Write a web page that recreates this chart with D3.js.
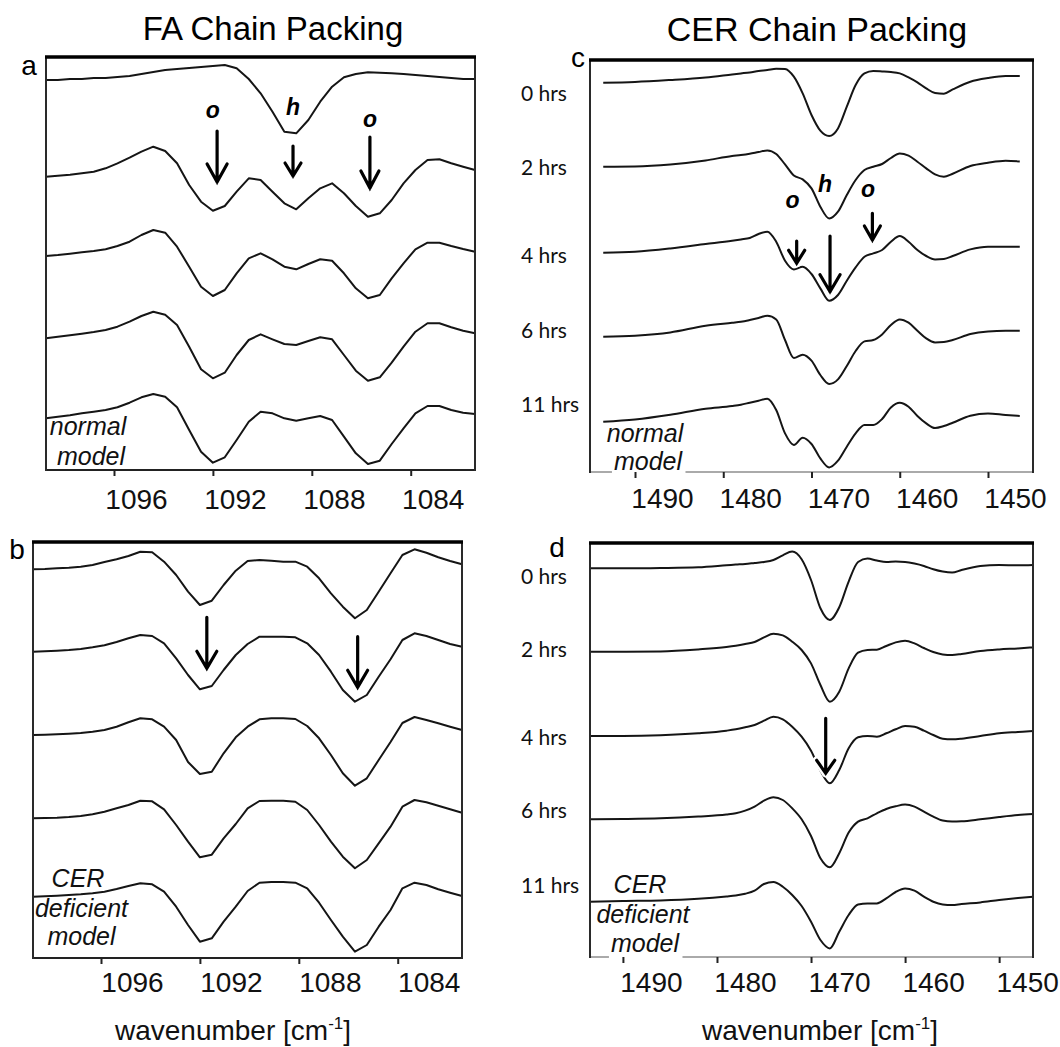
<!DOCTYPE html>
<html><head><meta charset="utf-8">
<script src="https://cdn.jsdelivr.net/npm/d3@7"></script>
<style>body{margin:0;background:#fff}svg{display:block}</style>
</head><body>
<svg id="chart" width="1060" height="1047"></svg>
<script>
// ---------------- DATA ----------------
// FA (CD2 scissoring) sampling grid, cm^-1
const faWavenumber = [1098.75,1098.27,1097.78,1097.30,1096.82,1096.34,1095.86,1095.37,1094.89,1094.41,1093.93,1093.45,1092.96,1092.48,1092.00,1091.52,1091.04,1090.55,1090.07,1089.59,1089.11,1088.63,1088.14,1087.66,1087.18,1086.70,1086.22,1085.73,1085.25,1084.77,1084.29,1083.81,1083.32,1082.84,1082.36,1081.88,1081.40];
// panel a: normal model (relative intensity, arbitrary units, each relative to its own left baseline)
const faNormal1 = [0,0,1,1,2,2,3,4,6,8,10,11,12,13,14,15,11.7,1,-13.3,-31.7,-51.7,-53.3,-40,-21.7,-6.7,2.7,6,7.7,7.3,6.7,6,5,4,3,2,1,1];
const faNormal2 = [0,1,2,3.4,5,8.4,13.4,19,25,30,25.7,13.4,-8.3,-25,-34,-29.3,-15,-1.6,-3.3,-15,-26.6,-32.6,-21.6,-11.6,-6.6,-16.6,-29.3,-40,-36.6,-23.3,-6.6,6.7,16.7,17.4,13.4,10,6.7];
const faNormal3 = [0,1,2.3,3.7,5,6.7,10,14.3,21,26,23.3,9.3,-10.7,-30.7,-40,-34,-17.3,-2.3,2.7,-3.3,-10.7,-13.3,-8,-3.3,-4.7,-17.3,-32.3,-42.3,-39,-22.3,-7.3,6.7,13.3,13.3,10,7,4.3];
const faNormal4 = [0,1.6,3,4.6,6.3,8.3,11.6,16.6,22.3,26.6,23.6,13.3,-8.4,-31,-40,-34.4,-16.7,-1.7,4,-1,-5.7,-6.7,-2.7,1,-1,-16.7,-32.4,-42.4,-39,-24.4,-8.4,6.6,15,15,11,7.6,5];
const faNormal5 = [0,1.6,3,5,6.6,8.3,11,15.6,21,24.3,21.6,11,-11.7,-33.4,-44.4,-39,-21.7,-3.4,6.6,5,0,-2.4,0,2.3,-1.7,-18.4,-35,-45.7,-42.4,-25.7,-10,5,12.3,12.3,8.3,5.6,4.3];
// panel b: CER deficient model
const faDef1 = [0,0.3,1,1.6,2.6,4.3,7.3,10,13.3,17.6,17,7.6,-5.7,-22.4,-35.7,-31.4,-15.7,-1.4,8.3,9.3,8.6,7.6,7.6,2.6,-9,-24,-37.4,-49,-40.7,-22.4,-4,14.3,20,16.6,12,8.3,5];
const faDef2 = [0,0.4,1,1.7,2.7,4.4,6.4,9.7,13.4,16.7,15.7,8.4,-6.6,-23.3,-37.6,-34.3,-18.3,-3.3,7.7,15,15,15,14.4,8.4,-3.3,-20,-38.3,-50,-43.3,-25,-7.6,11.7,18.4,15.7,11.7,7.7,5];
const faDef3 = [0,0.3,0.7,1.3,2,3.3,5,8.3,12.7,16.7,15.7,8.3,-5,-27,-39,-36.7,-18.3,-2.3,8.3,15.7,16.7,16.7,16,9,-3.3,-20,-38.3,-50.7,-43.3,-25,-7,12,18,15,11.7,8.3,5];
const faDef4 = [0,0.3,0.6,1.3,2.3,4,6.6,10,13.3,17.6,17,9,-6.7,-23.4,-39,-36.4,-20,-5.7,10,17.3,17.6,17.6,16.6,8.3,-6.7,-23.4,-38.4,-50,-41.7,-25,-8.4,11.6,18.3,16,12.6,9,5.6];
const faDef5 = [0,0.4,1,1.7,2.4,3.4,5,7.7,10.7,13.4,12.4,5,-10,-28.3,-45,-41.6,-25,-10,5.7,14,14.7,14.7,14,8.4,-6,-23.3,-40,-55,-48.3,-30,-13.3,8.4,14,11.7,7.4,4,0.7];

// CER (CH2 scissoring) wavenumbers, cm^-1
const cerWavenumberC = [1493.6,1490,1486,1482,1479,1478,1477,1476,1475,1474,1473,1472,1471,1470,1469,1468,1467,1466,1465,1464,1463,1462,1461,1460,1459,1458,1457,1456,1455,1454,1452,1450,1448,1446.4];
const cerWavenumberD = [1493.5,1490,1486,1482,1479,1478,1477,1476,1475,1474,1473,1472,1471,1470,1469,1468,1467,1466,1465,1464,1463,1462,1461,1460,1459,1458,1457,1456,1455,1454,1452,1450,1448,1446.4];
// panel c: normal model, 0/2/4/6/11 hrs
const cerNormal0h  = [0,0.7,2.7,5.3,8.3,9.3,10.3,11.7,12.7,14,13.7,6,-10.7,-32.3,-48,-53.3,-45.7,-24,-2.3,9.3,11.7,11.3,10.7,9.3,5.3,0.3,-5.7,-10.3,-11,-6.7,1,4.7,6.7,6.7];
const cerNormal2h  = [0,0.3,2.3,6.3,10.7,11.7,13,14.7,16.3,12.7,2.3,-8.7,-12.7,-21.7,-40,-51.7,-45,-28.3,-13.3,-3.3,0,2.7,8.7,13.3,11,5,-1.7,-7.7,-10,-7,0.7,4,6,5.3];
const cerNormal4h  = [0,1,4.3,8.7,12,13.3,14.7,18.7,21,11,-8,-16.7,-14,-21.3,-35.7,-48,-42.3,-28,-14.7,-4,-0.7,2.7,11,16.7,11,2.7,-3.3,-6.7,-6.3,-3.3,3.3,6,6,6];
const cerNormal6h  = [0,1,4.3,11,14,15,16.7,18.7,21,17.3,-3.3,-21.3,-18,-24,-38.3,-47.3,-42.7,-29.3,-14.3,-4.7,-3.3,2.3,11.7,17.3,14,6,-1.7,-5.7,-5.3,-3.3,2.7,5.3,6,6];
const cerNormal11h = [0,2.3,7,13,15.7,17,19,21,23,11.7,-11.7,-23.3,-16,-22.3,-36.7,-45.7,-39,-25,-11.7,-3.3,-3.3,2.7,14.3,19,15,5.7,-1.7,-6.3,-4.3,-1,6,8.3,6.7,5.7];
// panel d: CER deficient model
const cerDef0h  = [0,0,0.3,1,3,3.7,4.3,5.3,6.3,8.3,13,16.7,9,-11.7,-40,-51.7,-39,-13.3,6.3,9.7,7.7,6.3,6.7,6.3,4.7,2.3,-1,-3.3,-4.3,-1.7,2.3,3.3,3,3.3];
const cerDef2h  = [0,0,0.3,2.3,4.7,6,7.7,9.7,14.3,18,16.3,10,1.7,-11.7,-33.3,-50,-40,-16.7,-1,1.7,2,5.7,9.3,11,8.3,3.7,-0.3,-2.7,-3.3,-2.3,0.7,2.3,3.3,4.3];
const cerDef4h  = [0,0,0.7,2.7,5.3,6.7,8.7,11,15.3,19.3,16.7,9.3,-0.7,-14.7,-34.7,-47.3,-34,-12.3,-1.3,0,-0.7,2.7,6.7,10,9.3,5.3,1,-2.7,-3.3,-2.7,0,2.7,4,5];
const cerDef6h  = [0,0.3,1,2.7,4.7,6,8.7,12.7,18.7,22,19.3,11,0,-16.7,-39,-48,-34,-13.3,-2.3,1,6,10.3,13,14.7,12.7,7.7,2.7,-1.3,-2.3,-2,0,2.3,4.3,5.3];
const cerDef11h = [0,0.7,1.3,3,5.3,6.3,8,11,17.7,19.7,15,6.7,-4.3,-20,-38.3,-46.7,-30,-13.3,-2.7,-1.7,-1.7,3.3,9.7,13.3,11,5,0,-2.7,-3.3,-2.3,-0.7,1.7,3.7,5];

// stacking offsets of the spectra (same units)
const offsetsA = [390, 293.3, 214, 131.7, 51.7];
const offsetsB = [388.7, 306.3, 223, 139.7, 61.3];
const offsetsC = [389.3, 305.3, 219.3, 135.3, 50.3];
const offsetsD = [388.7, 305.3, 221, 137.7, 55.3];

const faTicks = [1096, 1092, 1088, 1084];
const cerTicks = [1490, 1480, 1470, 1460, 1450];
const timeLabels = ["0 hrs", "2 hrs", "4 hrs", "6 hrs", "11 hrs"];
const titles = ["FA Chain Packing", "CER Chain Packing"];
const axisTitle = "wavenumber [cm";

// annotations: arrows [wn, yTop, yTip, halfWidth, headLength]
const arrowsA = [[1091.83,339,288,10,18],[1088.76,324,294,8,13],[1085.65,333,282,9,17]];
const arrowsB = [[1091.72,340.7,289.7,10,17],[1085.62,321.3,270.7,10,17]];
const arrowsC = [[1471.68,231,208.7,8,13],[1467.9,236,180.3,10,17],[1463.1,258.7,232,8,14]];
const arrowsD = [[1468.44,238.7,183.7,9,13]];
const lettersA = [["o",1092.0,352],["h",1088.76,355],["o",1085.65,343.3]];
const lettersC = [["o",1472.15,263.7],["h",1468.47,280.3],["o",1463.6,275.3]];

// ---------------- LAYOUT ----------------
const SANS = "'Liberation Sans', Arial, Helvetica, sans-serif";
const svg = d3.select("#chart");

const panels = [
  {letter:"a", box:{l:46,r:475,t:57,b:470}, domain:[1098.75,1081.40], wn:faWavenumber,
   traces:[faNormal1,faNormal2,faNormal3,faNormal4,faNormal5], offsets:offsetsA, curve:d3.curveLinear,
   ticks:faTicks, labDx:22, labDy:39, bottomColor:"#222", arrows:arrowsA, letters:lettersA,
   letterPos:[29,75], model:["normal","model"], modelX:[88,91], modelY:[435,465], knockout:false},
  {letter:"b", box:{l:33,r:462,t:542,b:958}, domain:[1098.75,1081.40], wn:faWavenumber,
   traces:[faDef1,faDef2,faDef3,faDef4,faDef5], offsets:offsetsB, curve:d3.curveLinear,
   ticks:faTicks, labDx:31, labDy:34, bottomColor:"#222", arrows:arrowsB, letters:[],
   letterPos:[17,559], model:["CER","deficient","model"], modelX:[78,81.5,81.5], modelY:[886.7,916.7,945], knockout:false},
  {letter:"c", box:{l:590,r:1033,t:60,b:472}, domain:[1495.1,1444.9], wn:cerWavenumberC,
   traces:[cerNormal0h,cerNormal2h,cerNormal4h,cerNormal6h,cerNormal11h], offsets:offsetsC, curve:d3.curveMonotoneX,
   ticks:cerTicks, labDx:27, labDy:36, bottomColor:"#aaa", arrows:arrowsC, letters:lettersC,
   letterPos:[578,67], model:["normal","model"], modelX:[645,648], modelY:[441.7,470], knockout:true,
   timeY:[100.5,175,263,338,412]},
  {letter:"d", box:{l:590,r:1033,t:543,b:957}, domain:[1493.5,1446.4], wn:cerWavenumberD,
   traces:[cerDef0h,cerDef2h,cerDef4h,cerDef6h,cerDef11h], offsets:offsetsD, curve:d3.curveMonotoneX,
   ticks:cerTicks, labDx:28, labDy:35, bottomColor:"#aaa", arrows:arrowsD, letters:[],
   letterPos:[557,557], model:["CER","deficient","model"], modelX:[640,643,645], modelY:[893,922.7,951.7], knockout:true,
   timeY:[584,657,745,818,893]}
];

panels.forEach(p => {
  const B = p.box;
  const g = svg.append("g");
  const x = d3.scaleLinear().domain(p.domain).range([B.l, B.r]);
  const y = d3.scaleLinear().domain([0, B.b - B.t]).range([B.b, B.t]);

  // bottom axis line
  g.append("line").attr("x1",B.l).attr("x2",B.r).attr("y1",B.b).attr("y2",B.b)
    .attr("stroke",p.bottomColor).attr("stroke-width",2);

  // model text
  const mt = g.append("g");
  p.model.forEach((t,i) => {
    mt.append("text").attr("x",p.modelX[i]).attr("y",p.modelY[i]).attr("text-anchor","middle")
      .attr("font-family",SANS).attr("font-style","italic").attr("font-size",25).attr("fill","#111").text(t);
  });
  if (p.knockout) {
    const last = mt.selectAll("text").nodes().slice(-1)[0];
    const bb = last.getBBox();
    mt.insert("rect","text").attr("x",bb.x-2).attr("y",bb.y).attr("width",bb.width+4).attr("height",bb.height+2).attr("fill","#fff");
  }

  // spectra
  const line = d3.line().x(d => x(d[0])).y(d => y(d[1])).curve(p.curve);
  p.traces.forEach((tr,i) => {
    g.append("path").datum(tr.map((v,j) => [p.wn[j], v + p.offsets[i]]))
      .attr("d", line).attr("fill","none").attr("stroke","#151515").attr("stroke-width",2)
      .attr("stroke-linejoin","round");
  });

  // frame
  [B.l, B.r].forEach(xx => g.append("line").attr("x1",xx).attr("x2",xx).attr("y1",B.t).attr("y2",B.b+1)
      .attr("stroke","#2a2a2a").attr("stroke-width",2));
  g.append("line").attr("x1",B.l-1).attr("x2",B.r+1).attr("y1",B.t).attr("y2",B.t)
    .attr("stroke","#000").attr("stroke-width",3.5);

  // x axis
  const ax = g.append("g").attr("transform",`translate(0,${B.b})`)
    .call(d3.axisBottom(x).tickValues(p.ticks).tickSize(6).tickFormat(d3.format("d")));
  ax.select(".domain").remove();
  ax.selectAll(".tick line").attr("stroke","#222").attr("stroke-width",2);
  ax.selectAll(".tick text").attr("font-family",SANS).attr("font-size",28).attr("fill","#111")
    .attr("x",p.labDx).attr("y",p.labDy).attr("dy",0);

  // arrows
  p.arrows.forEach(a => {
    const ax0 = x(a[0]), y0 = y(a[1]), y1 = y(a[2]), hw = a[3], hl = a[4];
    const path = `M${ax0},${y0}L${ax0},${y1}M${ax0-hw},${y1-hl}L${ax0},${y1}L${ax0+hw},${y1-hl}`;
    g.append("path").attr("d",path).attr("fill","none").attr("stroke","#fff").attr("stroke-width",8)
      .attr("stroke-linecap","round").attr("stroke-linejoin","round");
    g.append("path").attr("d",path).attr("fill","none").attr("stroke","#000").attr("stroke-width",3.2)
      .attr("stroke-linecap","round").attr("stroke-linejoin","miter");
  });
  p.letters.forEach(l => {
    g.append("text").attr("x",x(l[1])).attr("y",y(l[2])).attr("text-anchor","middle")
      .attr("font-family",SANS).attr("font-style","italic").attr("font-weight","bold")
      .attr("font-size",23).attr("fill","#000").text(l[0]);
  });

  // panel letter
  svg.append("text").attr("x",p.letterPos[0]).attr("y",p.letterPos[1]).attr("text-anchor","middle")
    .attr("font-family",SANS).attr("font-size",28).attr("fill","#000").text(p.letter);

  // time labels
  if (p.timeY) {
    timeLabels.forEach((t,i) => {
      svg.append("text").attr("x",521).attr("y",p.timeY[i]).attr("font-family","Lato, 'Open Sans', sans-serif")
        .attr("font-size",21).attr("fill","#111").text(t);
    });
  }
});

// titles
svg.append("text").attr("x",273).attr("y",40).attr("text-anchor","middle").attr("font-family",SANS)
  .attr("font-size",33).attr("fill","#000").text(titles[0]);
svg.append("text").attr("x",817).attr("y",41).attr("text-anchor","middle").attr("font-family",SANS)
  .attr("font-size",34).attr("fill","#000").text(titles[1]);

// axis titles
[[233,1040],[820,1040]].forEach(pos => {
  const t = svg.append("text").attr("x",pos[0]).attr("y",pos[1]).attr("text-anchor","middle")
    .attr("font-family",SANS).attr("font-size",28).attr("fill","#111");
  t.append("tspan").text(axisTitle);
  t.append("tspan").attr("dy",-11).attr("font-size",17).text("-1");
  t.append("tspan").attr("dy",11).text("]");
});
</script>
</body></html>
